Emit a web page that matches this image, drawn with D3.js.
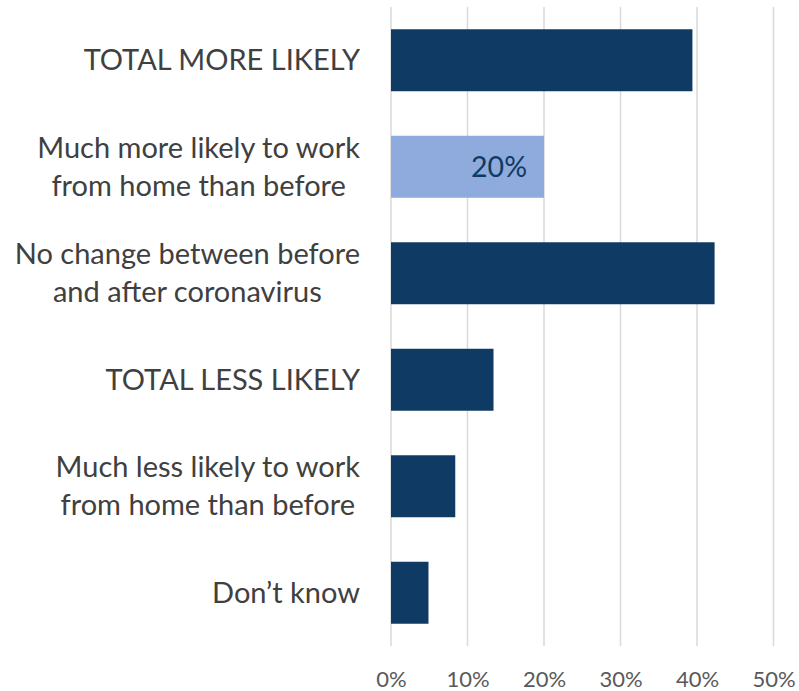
<!DOCTYPE html>
<html><head><meta charset="utf-8">
<script src="https://cdn.jsdelivr.net/npm/d3@7"></script>
<style>body{margin:0;background:#fff;}svg{display:block;}</style>
</head><body>
<svg id="c" width="799" height="691"></svg>
<script>
const categories = [
  ["TOTAL MORE LIKELY"],
  ["Much more likely to work", "from home than before"],
  ["No change between before", "and after coronavirus"],
  ["TOTAL LESS LIKELY"],
  ["Much less likely to work", "from home than before"],
  ["Don\u2019t know"]
];
const values = [39.4, 20, 42.3, 13.4, 8.4, 4.9];
const highlighted = [false, true, false, false, false, false];
const dataLabels = [null, "20%", null, null, null, null];
const xTicks = [0, 10, 20, 30, 40, 50];

(function(){
const svg = d3.select("#c");
const font = "Lato, 'Open Sans', sans-serif";
const pL = 391, pR = 773.5, pT = 7, pB = 646;
const x = d3.scaleLinear().domain([0, 50]).range([pL, pR]);
const y = d3.scaleBand().domain(d3.range(categories.length)).range([pT, pB]).paddingInner(0.418).paddingOuter(0.209);

svg.append("g").selectAll("line").data(xTicks).join("line")
  .attr("x1", d => x(d)).attr("x2", d => x(d))
  .attr("y1", pT).attr("y2", pB)
  .attr("stroke", "#d9d9d9").attr("stroke-width", 1.5);

const xAxis = d3.axisBottom(x).tickValues(xTicks).tickFormat(d => d + "%").tickSize(0).tickPadding(0);
const ax = svg.append("g").attr("transform", `translate(0,${pB + 33})`).call(xAxis);
ax.select(".domain").remove();
ax.selectAll("text").attr("font-family", font).attr("font-size", 22).attr("fill", "#595959").attr("dy", "0.35em");

svg.append("g").selectAll("rect").data(values).join("rect")
  .attr("x", x(0)).attr("y", (d, i) => y(i))
  .attr("width", d => x(d) - x(0)).attr("height", y.bandwidth())
  .attr("fill", (d, i) => highlighted[i] ? "#8faadc" : "#0f3a63");

svg.append("g").selectAll("text").data(values.map((v, i) => ({v, i})).filter(d => dataLabels[d.i])).join("text")
  .attr("x", d => x(d.v) - 17).attr("y", d => y(d.i) + y.bandwidth() / 2)
  .attr("dy", "0.35em").attr("text-anchor", "end")
  .attr("font-family", font).attr("font-size", 28.5).attr("fill", "#0f3a63")
  .text(d => dataLabels[d.i]);

const labelRight = 360, lineH = 38;
categories.forEach((lines, i) => {
  const cy = y(i) + y.bandwidth() / 2;
  const g = svg.append("g");
  const texts = lines.map((t, j) => g.append("text")
    .attr("font-family", font).attr("font-size", 29).attr("fill", "#404040")
    .attr("text-anchor", "middle")
    .attr("y", cy + (j - (lines.length - 1) / 2) * lineH)
    .attr("dy", "0.35em").text(t));
  const maxW = d3.max(texts, t => t.node().getComputedTextLength());
  texts.forEach(t => t.attr("x", labelRight - maxW / 2));
});
})();
</script>
</body></html>
